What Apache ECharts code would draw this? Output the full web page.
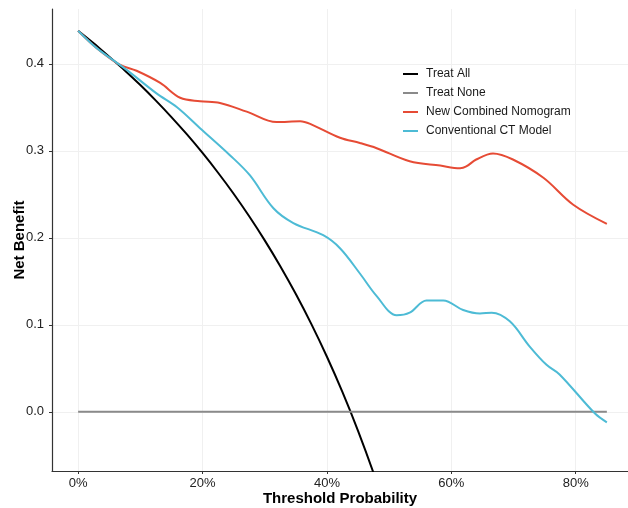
<!DOCTYPE html>
<html>
<head>
<meta charset="utf-8">
<script src="https://cdn.jsdelivr.net/npm/echarts@6/dist/echarts.min.js"></script>
<style>
  html, body { margin: 0; padding: 0; background: #fff; }
  #chart { width: 628px; height: 508px; }
</style>
</head>
<body>
<div id="chart"></div>
<script>
// threshold probability in percent, net benefit
const treatAll = [
  [0, 0.438], [2.5, 0.4236], [5, 0.408], [7.5, 0.3924], [10, 0.3756],
  [12.5, 0.3577], [15, 0.3388], [17.5, 0.3188], [20, 0.2975], [22.5, 0.2748],
  [25, 0.2507], [27.5, 0.2248], [30, 0.1971], [32.5, 0.1674], [35, 0.1354],
  [37.5, 0.1008], [40, 0.0633], [42.5, 0.0226], [45, -0.0218], [47.5, -0.0705],
  [50, -0.124]
]
const treatNone = [[0, 0], [85, 0]]
const nomogram = [
  [0, 0.438], [3, 0.418], [6.7, 0.399], [9.4, 0.392], [13.2, 0.378],
  [16.4, 0.361], [19.6, 0.357], [22.8, 0.355], [27.1, 0.345], [31.9, 0.333],
  [35.7, 0.334], [37.3, 0.331], [42.1, 0.315], [45.3, 0.309], [48, 0.303],
  [53.3, 0.288], [58.2, 0.283], [61.4, 0.28], [62.4, 0.282], [64, 0.29],
  [66.7, 0.297], [69.9, 0.29], [74.8, 0.269], [79.6, 0.238], [85, 0.216]
]
const ctModel = [
  [0, 0.438], [3, 0.418], [7.8, 0.393], [12.6, 0.366], [15.9, 0.35],
  [19.6, 0.326], [24.4, 0.295], [27.6, 0.272], [31.4, 0.234], [34.6, 0.217],
  [39.4, 0.203], [42.1, 0.188], [45.3, 0.159], [48, 0.133], [51.2, 0.111],
  [53.3, 0.114], [56, 0.128], [58.7, 0.128], [61.9, 0.117], [64.6, 0.113],
  [66.5, 0.114], [69.4, 0.104], [72.6, 0.075], [75.3, 0.054], [77.4, 0.043],
  [83.1, -0.002], [85, -0.012]
]
const xTicks = [0, 20, 40, 60, 80]
const yTicks = [0, 0.1, 0.2, 0.3, 0.4]

const FONT = 'Liberation Sans, Arial, sans-serif'

const chart = echarts.init(document.getElementById('chart'), null, { renderer: 'canvas' })

function line(name, data, color, smooth) {
  return {
    name,
    type: 'line',
    data,
    showSymbol: false,
    smooth: smooth,
    clip: true,
    lineStyle: { color, width: 2 },
    itemStyle: { color },
  }
}

chart.setOption({
  animation: false,
  grid: { left: 52, right: 0, top: 9, bottom: 37, outerBoundsMode: 'none', containLabel: false },
  legend: {
    orient: 'vertical',
    left: 398,
    top: 63,
    itemGap: 7,
    itemWidth: 15,
    itemHeight: 2,
    icon: 'rect',
    textStyle: { fontFamily: FONT, fontSize: 12, color: '#1a1a1a', padding: [0, 0, 0, 3] },
    data: ['Treat All', 'Treat None', 'New Combined Nomogram', 'Conventional CT Model'],
  },
  xAxis: {
    type: 'value',
    min: -4.2,
    max: 88.4,
    name: 'Threshold Probability',
    nameLocation: 'middle',
    nameGap: 20,
    nameMoveOverlap: false,
    nameTextStyle: { fontFamily: FONT, fontSize: 15, fontWeight: 'bold', color: '#000' },
    axisLine: { onZero: false, lineStyle: { color: '#333', width: 1.2 } },
    axisTick: { show: true, length: 3, customValues: xTicks, lineStyle: { color: '#333' } },
    axisLabel: {
      customValues: xTicks,
      margin: 6,
      fontFamily: FONT,
      fontSize: 13,
      color: '#222',
      formatter: (v) => v + '%',
    },
    splitLine: { show: true, lineStyle: { color: '#f0f0f0', width: 1 } },
  },
  yAxis: {
    type: 'value',
    min: -0.068,
    max: 0.463,
    name: 'Net Benefit',
    nameLocation: 'middle',
    nameGap: 25,
    nameMoveOverlap: false,
    nameTextStyle: { fontFamily: FONT, fontSize: 15, fontWeight: 'bold', color: '#000' },
    axisLine: { show: true, onZero: false, lineStyle: { color: '#333', width: 1.2 } },
    axisTick: { show: true, length: 3, customValues: yTicks, lineStyle: { color: '#333' } },
    axisLabel: {
      customValues: yTicks,
      margin: 8,
      fontFamily: FONT,
      fontSize: 13,
      color: '#222',
      formatter: (v) => v.toFixed(1),
    },
    splitLine: { show: true, lineStyle: { color: '#f0f0f0', width: 1 } },
  },
  series: [
    line('Treat All', treatAll, '#000000', 0.3),
    line('Treat None', treatNone, '#8a8a8a', false),
    line('New Combined Nomogram', nomogram, '#E64B35', 0.35),
    line('Conventional CT Model', ctModel, '#4DBBD5', 0.35),
  ],
})
</script>
</body>
</html>
